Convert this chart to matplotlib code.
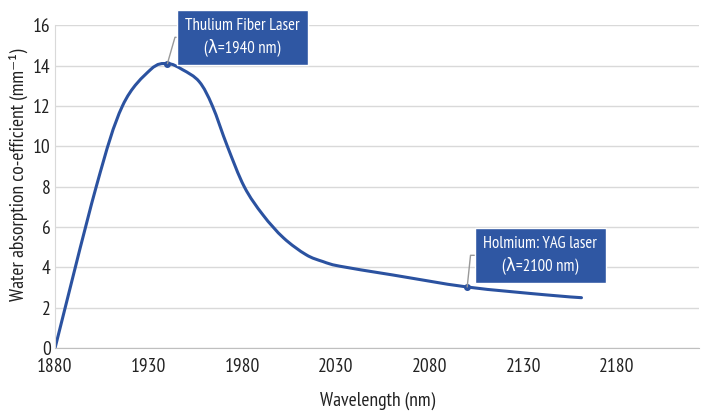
import matplotlib
matplotlib.use("Agg")
import matplotlib.pyplot as plt
from matplotlib import font_manager
from matplotlib.path import Path
from matplotlib.patches import PathPatch

fams = set(f.name for f in font_manager.fontManager.ttflist)
candidates = ['Myriad Pro', 'PT Sans Narrow', 'Source Sans 3', 'Source Sans Pro',
              'Roboto Condensed', 'Liberation Sans Narrow', 'Open Sans']
main_font = next((c for c in candidates if c in fams), 'DejaVu Sans')
plt.rcParams['font.family'] = [main_font, 'DejaVu Sans']

wavelength = [1880, 1902, 1916, 1931, 1940, 1948, 1957, 1964, 1972, 1981, 1991,
              2002, 2014, 2023, 2032, 2060, 2100, 2142, 2161]
absorption = [0.0, 8.0, 12.0, 13.8, 14.1, 13.8, 13.2, 12.0, 10.0, 8.0, 6.6,
              5.46, 4.63, 4.29, 4.06, 3.63, 3.03, 2.64, 2.5]
xticks = [1880, 1930, 1980, 2030, 2080, 2130, 2180]
yticks = [0, 2, 4, 6, 8, 10, 12, 14, 16]

annot_x = [1940, 2100]
annot_labels = ["Thulium Fiber Laser\n(\u03bb=1940 nm)", "Holmium: YAG laser\n(\u03bb=2100 nm)"]
annot_text_pos = [(1980, 15.4), (2139, 4.6)]
annot_angleB = [74, 84]

line_color = '#2B52A0'
box_color = '#2F57A3'

fig = plt.figure(figsize=(7.09, 4.13), dpi=100)
ax = fig.add_axes([0.0776, 0.157, 0.909, 0.782])

# smoothed line (Catmull-Rom -> cubic Bezier), like a spreadsheet "smoothed line"
pts = list(zip(wavelength, absorption))
verts = [pts[0]]
codes = [Path.MOVETO]
n = len(pts)
for i in range(n - 1):
    p0 = pts[i - 1] if i > 0 else pts[i]
    p1 = pts[i]
    p2 = pts[i + 1]
    p3 = pts[i + 2] if i + 2 < n else pts[i + 1]
    c1 = (p1[0] + (p2[0] - p0[0]) / 6, p1[1] + (p2[1] - p0[1]) / 6)
    c2 = (p2[0] - (p3[0] - p1[0]) / 6, p2[1] - (p3[1] - p1[1]) / 6)
    verts += [c1, c2, p2]
    codes += [Path.CURVE4] * 3
ax.add_patch(PathPatch(Path(verts, codes), fc='none', ec=line_color, lw=2.2,
                       capstyle='round', joinstyle='round'))

for xv, lab, tp, angB in zip(annot_x, annot_labels, annot_text_pos, annot_angleB):
    yv = absorption[wavelength.index(xv)]
    ax.plot([xv], [yv], 'o', color=line_color, ms=4)
    ax.annotate(lab, xy=(xv, yv), xytext=tp, textcoords='data',
                ha='center', va='center', color='white', fontsize=12,
                linespacing=1.3,
                bbox=dict(boxstyle='square,pad=0.5', fc=box_color, ec='white', lw=1),
                arrowprops=dict(arrowstyle='-', color='#999999', lw=1,
                                relpos=(0, 0.5), shrinkA=0, shrinkB=0,
                                connectionstyle=f'angle,angleA=0,angleB={angB},rad=0'))

ax.set_xlim(1880, 2224)
ax.set_ylim(0, 16)
ax.set_xticks(xticks)
ax.set_yticks(yticks)
ax.yaxis.grid(True, color='#D9D9D9', lw=1)
ax.set_axisbelow(True)
for s in ['top', 'right']:
    ax.spines[s].set_visible(False)
ax.spines['left'].set_color('#D9D9D9')
ax.spines['bottom'].set_color('#BFBFBF')
ax.tick_params(length=0, labelsize=14, colors='#222222')
ax.tick_params(axis='x', pad=7)
ax.tick_params(axis='y', pad=3)
ax.set_xlabel('Wavelength (nm)', fontsize=14, color='#222222')
ax.xaxis.set_label_coords(0.5, -0.135)
ax.set_ylabel('Water absorption co-efficient (mm\u207b\u00b9)', fontsize=14, color='#222222',
              va='center', ha='center')
ax.yaxis.set_label_coords(-0.057, 0.536)

fig.savefig('out.png', dpi=100)
